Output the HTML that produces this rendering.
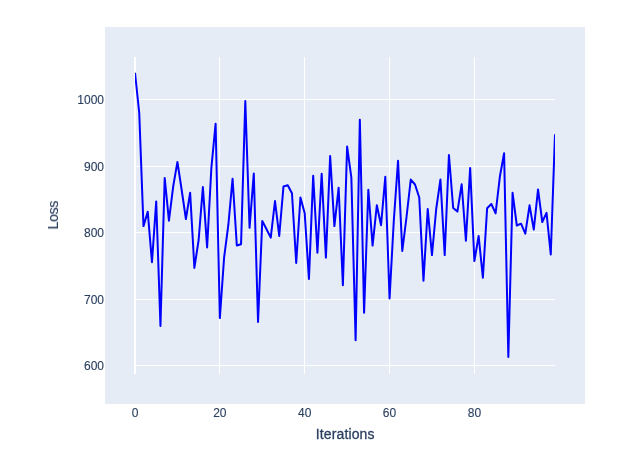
<!DOCTYPE html>
<html><head><meta charset="utf-8"><title>Loss</title>
<style>
html,body{margin:0;padding:0;background:#fff;}
body{width:621px;height:472px;overflow:hidden;}
svg{display:block;}
text{font-family:"Liberation Sans",sans-serif;fill:#2a3f5f;stroke:#2a3f5f;stroke-width:0.3px;}
.txt{opacity:0.999;}
.t{font-size:12px;}
.t text{stroke-width:0.12px;}
.a{font-size:14px;letter-spacing:0.13px;}
</style></head><body>
<svg width="621" height="472" viewBox="0 0 621 472">
<rect x="0" y="0" width="621" height="472" fill="#ffffff"/>
<rect x="105" y="27" width="480" height="377" fill="#e5ecf6" shape-rendering="crispEdges"/>
<g fill="#ffffff" shape-rendering="crispEdges">
<rect x="219" y="57" width="1" height="317"/>
<rect x="304" y="57" width="1" height="317"/>
<rect x="389" y="57" width="1" height="317"/>
<rect x="474" y="57" width="1" height="317"/>
<rect x="135" y="99" width="420" height="1"/>
<rect x="135" y="166" width="420" height="1"/>
<rect x="135" y="232" width="420" height="1"/>
<rect x="135" y="299" width="420" height="1"/>
<rect x="135" y="365" width="420" height="1"/>
<rect x="134" y="57" width="2" height="317"/>
</g>
<clipPath id="c"><rect x="135" y="57" width="420" height="317"/></clipPath>
<g clip-path="url(#c)">
<polyline fill="none" stroke="#0000ff" stroke-width="2" stroke-linejoin="round" points="135.00,72.80 139.24,113.00 143.48,226.10 147.73,211.70 151.97,262.20 156.21,201.40 160.45,326.00 164.70,177.90 168.94,220.70 173.18,186.60 177.42,161.90 181.67,190.00 185.91,219.00 190.15,192.70 194.39,267.90 198.64,240.00 202.88,187.10 207.12,247.40 211.36,168.00 215.61,123.70 219.85,318.10 224.09,257.70 228.33,225.00 232.58,178.70 236.82,245.50 241.06,244.30 245.30,101.00 249.55,227.80 253.79,173.60 258.03,322.00 262.27,220.90 266.52,229.20 270.76,237.60 275.00,201.00 279.24,235.90 283.48,186.50 287.73,185.30 291.97,193.30 296.21,262.90 300.45,197.40 304.70,213.30 308.94,278.90 313.18,175.80 317.42,252.80 321.67,173.70 325.91,257.60 330.15,156.00 334.39,226.10 338.64,187.70 342.88,285.20 347.12,146.60 351.36,177.70 355.61,340.30 359.85,119.70 364.09,312.70 368.33,189.80 372.58,245.60 376.82,205.30 381.06,225.20 385.30,176.80 389.55,298.40 393.79,221.00 398.03,160.80 402.27,251.00 406.52,217.00 410.76,179.60 415.00,184.50 419.24,197.50 423.48,280.70 427.73,209.10 431.97,255.10 436.21,209.00 440.45,179.50 444.70,255.10 448.94,155.10 453.18,208.00 457.42,211.60 461.67,184.20 465.91,240.80 470.15,167.90 474.39,261.10 478.64,236.00 482.88,277.70 487.12,208.30 491.36,204.00 495.61,213.40 499.85,176.80 504.09,153.30 508.33,357.00 512.58,192.80 516.82,225.50 521.06,223.70 525.30,233.70 529.55,205.30 533.79,229.60 538.03,189.40 542.27,222.00 546.52,212.90 550.76,254.50 555.00,134.20"/>
</g>
<g class="txt">
<g class="t" text-anchor="middle">
<text x="135" y="417">0</text>
<text x="219.85" y="417">20</text>
<text x="304.7" y="417">40</text>
<text x="389.55" y="417">60</text>
<text x="474.4" y="417">80</text>
</g>
<g class="t" text-anchor="end">
<text x="104" y="104">1000</text>
<text x="104" y="171">900</text>
<text x="104" y="237">800</text>
<text x="104" y="304">700</text>
<text x="104" y="370">600</text>
</g>
<text class="a" text-anchor="middle" x="345.2" y="439">Iterations</text>
<text class="a" style="letter-spacing:-0.3px;stroke-width:0.2px" text-anchor="middle" transform="translate(58,215.2) rotate(-90)">Loss</text>
</g>
</svg>
</body></html>
